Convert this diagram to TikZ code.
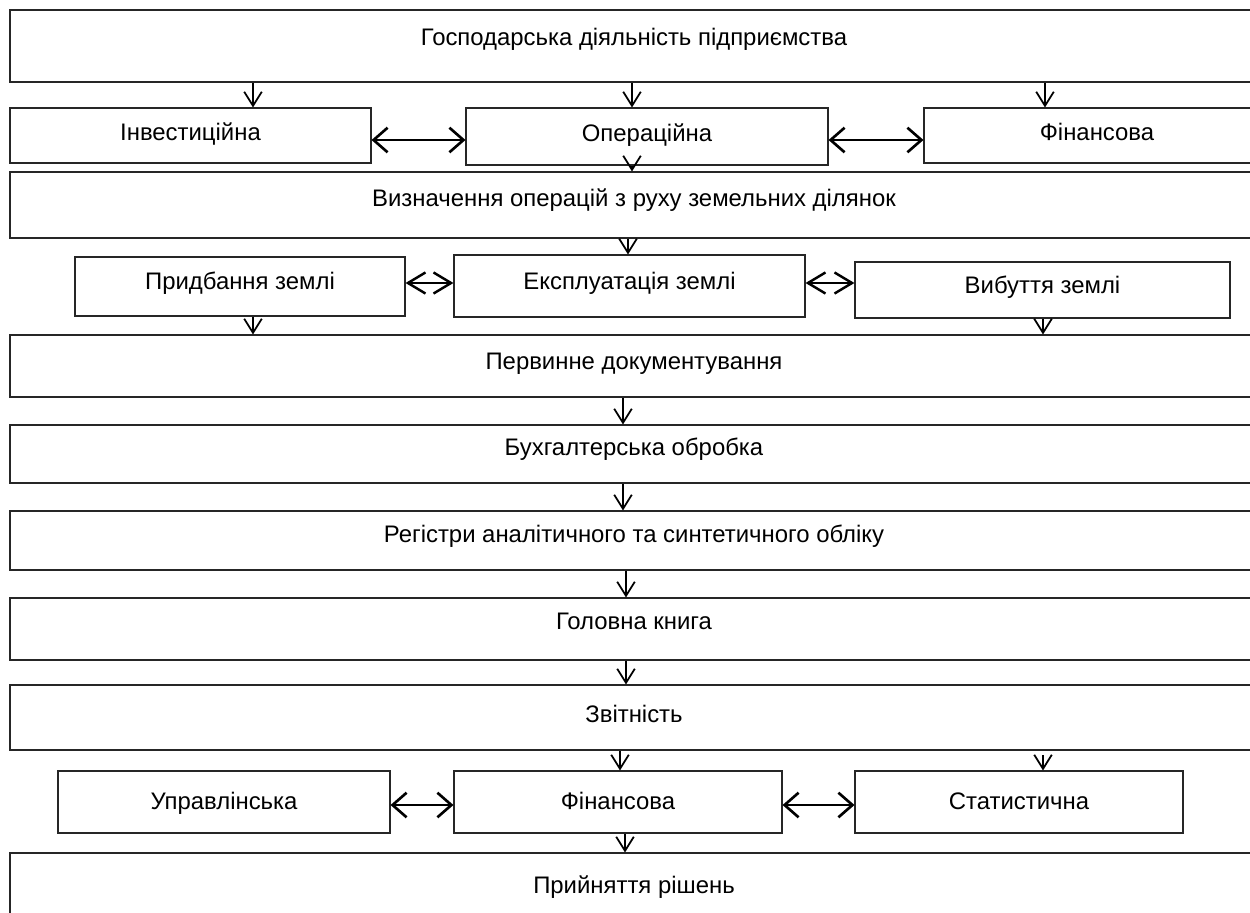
\documentclass[tikz,border=0pt]{standalone}
\usepackage{fontspec}
\setmainfont{Liberation Sans}
\usetikzlibrary{arrows.meta}

\tikzset{
  box/.style={draw=black!85, line width=0.6pt, inner sep=0pt, text height=9.5pt, font=\fontsize{13.6}{16}\selectfont},
  lift/.style={text depth=#1},
  arr/.style={line width=1pt, -{Straight Barb[length=8pt, width=10pt]}},
  both/.style={line width=1.5pt, {Straight Barb[length=8pt, width=14pt]}-{Straight Barb[length=8pt, width=14pt]}},
  bothshort/.style={line width=1.4pt, {Straight Barb[length=10pt, width=12pt]}-{Straight Barb[length=10pt, width=12pt]}}
}

\begin{document}
\begin{tikzpicture}

% Page frame
\clip (0,0) rectangle (25,-18.24);
\fill[white] (0,0) rectangle (25,-18.24);

% Activity level
\node (gosp) [box, lift=10.5pt, minimum width=24.96cm, minimum height=1.44cm] at (12.68,-0.92) {Господарська діяльність підприємства};
\node (inv) [box, lift=3.5pt, minimum width=7.22cm, minimum height=1.1cm] at (3.81,-2.71) {Інвестиційна};
\node (oper) [box, lift=3.5pt, minimum width=7.24cm, minimum height=1.14cm] at (12.94,-2.73) {Операційна};
\node (fin) [box, lift=3.5pt, minimum width=6.92cm, minimum height=1.1cm] at (21.94,-2.71) {Фінансова};

% Land operations
\node (vyzn) [box, lift=8.2pt, minimum width=24.96cm, minimum height=1.32cm] at (12.68,-4.1) {Визначення операцій з руху земельних ділянок};
\node (prydb) [box, lift=6pt, minimum width=6.6cm, minimum height=1.18cm] at (4.8,-5.73) {Придбання землі};
\node (ekspl) [box, lift=6pt, minimum width=7.02cm, minimum height=1.24cm] at (12.59,-5.72) {Експлуатація землі};
\node (vybut) [box, lift=6pt, minimum width=7.5cm, minimum height=1.12cm] at (20.85,-5.8) {Вибуття землі};

% Accounting chain
\node (perv) [box, lift=6pt, minimum width=24.96cm, minimum height=1.24cm] at (12.68,-7.32) {Первинне документування};
\node (buh) [box, lift=8.2pt, minimum width=24.96cm, minimum height=1.16cm] at (12.68,-9.08) {Бухгалтерська обробка};
\node (reg) [box, lift=7.1pt, minimum width=24.96cm, minimum height=1.18cm] at (12.68,-10.81) {Регістри аналітичного та синтетичного обліку};
\node (golov) [box, lift=9.4pt, minimum width=24.96cm, minimum height=1.24cm] at (12.68,-12.58) {Головна книга};
\node (zvit) [box, lift=3.8pt, minimum width=24.96cm, minimum height=1.3cm] at (12.68,-14.35) {Звітність};

% Reporting kinds
\node (upr) [box, lift=1.5pt, minimum width=6.64cm, minimum height=1.24cm] at (4.48,-16.04) {Управлінська};
\node (finz) [box, lift=1.5pt, minimum width=6.56cm, minimum height=1.24cm] at (12.36,-16.04) {Фінансова};
\node (stat) [box, lift=1.5pt, minimum width=6.56cm, minimum height=1.24cm] at (20.38,-16.04) {Статистична};
\node (pryin) [box, lift=7.7pt, minimum width=24.96cm, minimum height=1.54cm] at (12.68,-17.83) {Прийняття рішень};

% Down arrows
\draw[arr] (5.06,0 |- gosp.south) -- (5.06,0 |- inv.north);
\draw[arr] (12.64,0 |- gosp.south) -- (12.64,0 |- oper.north);
\draw[arr] (20.9,0 |- gosp.south) -- (20.9,0 |- fin.north);
\draw[arr] (12.64,0 |- oper.south) -- (12.64,0 |- vyzn.north);
\draw[arr] (12.56,0 |- vyzn.south) -- (12.56,0 |- ekspl.north);
\draw[arr] (5.06,0 |- prydb.south) -- (5.06,0 |- perv.north);
\draw[arr] (20.86,0 |- vybut.south) -- (20.86,0 |- perv.north);
\draw[arr] (12.46,0 |- perv.south) -- (12.46,0 |- buh.north);
\draw[arr] (12.46,0 |- buh.south) -- (12.46,0 |- reg.north);
\draw[arr] (12.52,0 |- reg.south) -- (12.52,0 |- golov.north);
\draw[arr] (12.52,0 |- golov.south) -- (12.52,0 |- zvit.north);
\draw[arr] (12.4,0 |- zvit.south) -- (12.4,0 |- finz.north);
\draw[arr] (20.86,-15.1) -- (20.86,0 |- stat.north);
\draw[arr] (12.5,0 |- finz.south) -- (12.5,0 |- pryin.north);

% Two-way arrows
\draw[both] (inv.east |- 0,-2.8) -- (oper.west |- 0,-2.8);
\draw[both] (oper.east |- 0,-2.8) -- (fin.west |- 0,-2.8);
\draw[bothshort] (prydb.east |- 0,-5.66) -- (ekspl.west |- 0,-5.66);
\draw[bothshort] (ekspl.east |- 0,-5.66) -- (vybut.west |- 0,-5.66);
\draw[both] (upr.east |- 0,-16.1) -- (finz.west |- 0,-16.1);
\draw[both] (finz.east |- 0,-16.1) -- (stat.west |- 0,-16.1);

\end{tikzpicture}
\end{document}
